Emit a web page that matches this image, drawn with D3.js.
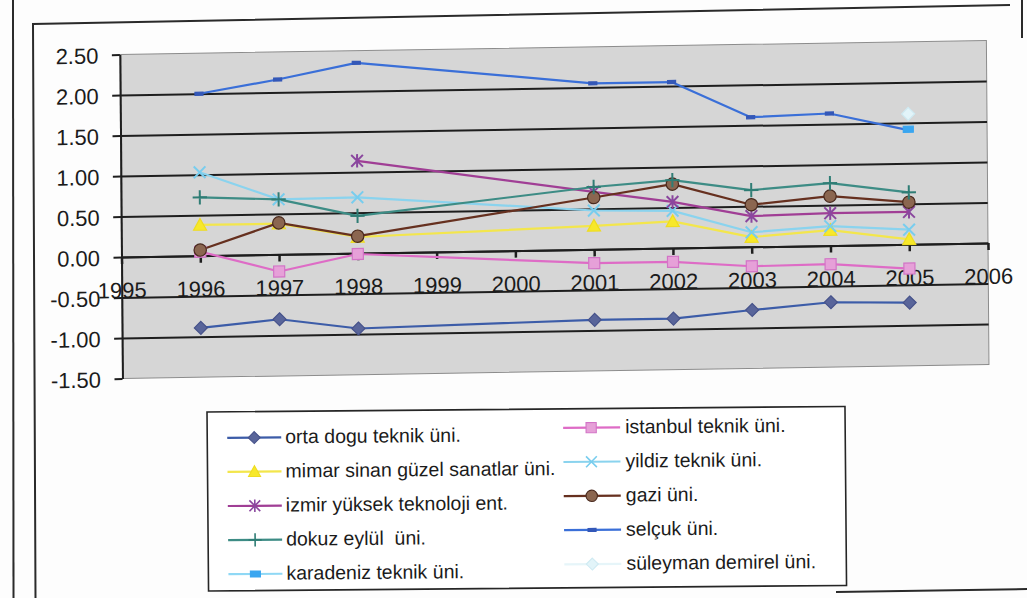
<!DOCTYPE html>
<html><head><meta charset="utf-8">
<script src="https://cdn.jsdelivr.net/npm/d3@7"></script>
<style>
body{margin:0;background:#fdfdfd;}
svg{display:block;}
text{font-family:"Liberation Sans",Arial,Helvetica,sans-serif;fill:#1b1b1b;}
</style></head><body>
<svg id="c" width="1027" height="598"></svg>
<script>
// ---------- data ----------
const years = [1996,1997,1998,1999,2000,2001,2002,2003,2004,2005];
const xTickLabels = [1995,1996,1997,1998,1999,2000,2001,2002,2003,2004,2005,2006];
const yTickValues = [-1.5,-1.0,-0.5,0,0.5,1.0,1.5,2.0,2.5];
const seriesNames = ["orta dogu teknik üni.","istanbul teknik üni.","mimar sinan güzel sanatlar üni.","yildiz teknik üni.","izmir yüksek teknoloji ent.","gazi üni.","dokuz eylül  üni.","selçuk üni.","karadeniz teknik üni.","süleyman demirel üni."];
const ortaDogu   = [-0.89,-0.80,-0.93,null,null,-0.87,-0.87,-0.78,-0.70,-0.72];
const istanbul   = [ 0.05,-0.21,-0.01,null,null,-0.17,-0.17,-0.24,-0.23,-0.30];
const mimarSinan = [ 0.38, 0.38, 0.20,null,null, 0.29, 0.33, 0.12, 0.19, 0.06];
const yildiz     = [ 1.03, 0.68, 0.69,null,null, 0.48, 0.46, 0.18, 0.24, 0.18];
const izmir      = [ null, null, 1.14,null,null, 0.71, 0.57, 0.38, 0.40, 0.40];
const gazi       = [ 0.07, 0.39, 0.21,null,null, 0.64, 0.79, 0.52, 0.61, 0.52];
const dokuzEylul = [ 0.72, 0.68, 0.46,null,null, 0.77, 0.84, 0.70, 0.77, 0.64];
const selcuk     = [ 2.00, 2.16, 2.35,null,null, 2.05, 2.05, 1.60, 1.63, 1.41];
const karadeniz  = [ null, null, null,null,null, null, null, null, null, 1.42];
const suleyman   = [ null, null, null,null,null, null, null, null, null, 1.61];
const seriesValues = [ortaDogu,istanbul,mimarSinan,yildiz,izmir,gazi,dokuzEylul,selcuk,karadeniz,suleyman];

// ---------- styles ----------
const lineColors   = ["#3c5ca8","#de6cc6","#f3e64c","#8ad3ee","#a03e95","#66301f","#3d8c85","#3a6fd8","#8fd8f5","#e6f5f9"];
const markerFill   = ["#59659a","#e6a0d8","#f7e82a","none","none","#8b6650","none","#3458b8","#3aa6f0","#e2f4f9"];
const markerStroke = ["#46528a","#d274c6","#eedc20","#78cdee","#8a479e","#4a2a1e","#2f7d75","#3458b8","#3aa6f0","#cfeaf2"];
const markerTypes  = ["diamond","square","triangle","x","asterisk","circle","plus","dash","bigdash","diamond"];

const mk = {
  diamond:{draw(c,s){c.moveTo(0,-s);c.lineTo(s,0);c.lineTo(0,s);c.lineTo(-s,0);c.closePath();}},
  square:{draw(c,s){s*=0.85;c.moveTo(-s,-s);c.lineTo(s,-s);c.lineTo(s,s);c.lineTo(-s,s);c.closePath();}},
  triangle:{draw(c,s){c.moveTo(0,-s);c.lineTo(s,s*0.8);c.lineTo(-s,s*0.8);c.closePath();}},
  x:{draw(c,s){s*=0.9;c.moveTo(-s,-s);c.lineTo(s,s);c.moveTo(-s,s);c.lineTo(s,-s);}},
  asterisk:{draw(c,s){s*=0.9;c.moveTo(-s,-s);c.lineTo(s,s);c.moveTo(-s,s);c.lineTo(s,-s);c.moveTo(0,-s*1.15);c.lineTo(0,s*1.15);}},
  circle:{draw(c,s){c.moveTo(s*0.95,0);c.arc(0,0,s*0.95,0,2*Math.PI);}},
  plus:{draw(c,s){s*=1.1;c.moveTo(-s,0);c.lineTo(s,0);c.moveTo(0,-s);c.lineTo(0,s);}},
  dash:{draw(c,s){c.moveTo(-4,-1.5);c.lineTo(4,-1.5);c.lineTo(4,1.5);c.lineTo(-4,1.5);c.closePath();}},
  bigdash:{draw(c,s){c.moveTo(-5,-3);c.lineTo(5,-3);c.lineTo(5,3);c.lineTo(-5,3);c.closePath();}}
};

const svg = d3.select("#c");

// ---------- page frame ----------
svg.append("line").attr("x1",13).attr("y1",0).attr("x2",13.5).attr("y2",598).attr("stroke","#2a2a2a").attr("stroke-width",2);
svg.append("polyline").attr("points","1010,5 33,24 35.5,598").attr("fill","none").attr("stroke","#2a2a2a").attr("stroke-width",2);
svg.append("line").attr("x1",1022).attr("y1",0).attr("x2",1022).attr("y2",38).attr("stroke","#2a2a2a").attr("stroke-width",2);
svg.append("line").attr("x1",836).attr("y1",592).attr("x2",1027).attr("y2",589).attr("stroke","#2a2a2a").attr("stroke-width",2);

// ---------- plot ----------
const L = 121.5, R = 988, T = 54.5, B = 378.5;
const x = d3.scaleLinear().domain([1995,2006]).range([L,R]);
const y = d3.scaleLinear().domain([-1.5,2.5]).range([B,T]);

// slight scan skew
const g = svg.append("g").attr("transform",`matrix(1,-0.01615,0.008,1,${-0.008*257},${0.01615*L})`);

g.append("rect").attr("x",L).attr("y",T).attr("width",R-L).attr("height",B-T)
  .attr("fill","#d6d6d6").attr("stroke","#8c8c8c").attr("stroke-width",1);

// gridlines
g.append("g").attr("transform",`translate(${L},0)`)
  .call(d3.axisLeft(y).tickValues(yTickValues.filter(v=>v>-1.5&&v<2.5)).tickSize(-(R-L)).tickFormat(""))
  .call(a=>a.select(".domain").remove())
  .call(a=>a.selectAll("line").attr("stroke","#1e1e1e").attr("stroke-width",2));

// y axis
const ya = g.append("g").attr("transform",`translate(${L},0)`)
  .call(d3.axisLeft(y).tickValues(yTickValues).tickSize(8).tickSizeOuter(0).tickFormat(d=>d.toFixed(2)));
ya.select(".domain").attr("stroke","#1e1e1e").attr("stroke-width",2);
ya.selectAll(".tick line").attr("stroke","#1e1e1e").attr("stroke-width",2);
ya.selectAll(".tick text").attr("x",-21.5).attr("dy",0).attr("y",8.2)
  .attr("font-size",22).attr("fill","#1b1b1b");
ya.attr("font-family",null).attr("font-size",22);

// x axis at zero
const xa = g.append("g").attr("transform",`translate(0,${y(0)})`)
  .call(d3.axisBottom(x).tickValues(xTickLabels).tickSize(7).tickSizeOuter(0).tickFormat(d3.format("d")));
xa.select(".domain").attr("stroke","#1e1e1e").attr("stroke-width",2);
xa.selectAll(".tick line").attr("stroke","#1e1e1e").attr("stroke-width",2.5);
xa.selectAll(".tick text").attr("y",41).attr("dy",0)
  .attr("font-size",22).attr("fill","#1b1b1b");
xa.attr("font-family",null).attr("font-size",22);

// series
const line = d3.line().x(d=>x(d.year)).y(d=>y(d.v));
seriesValues.forEach((vals,i)=>{
  const pts = years.map((yr,j)=>({year:yr,v:vals[j]})).filter(d=>d.v!==null);
  if(pts.length>1){
    g.append("path").datum(pts).attr("d",line).attr("fill","none")
      .attr("stroke",lineColors[i]).attr("stroke-width",2.2).attr("stroke-linejoin","round");
  }
});
seriesValues.forEach((vals,i)=>{
  const pts = years.map((yr,j)=>({year:yr,v:vals[j]})).filter(d=>d.v!==null);
  const sym = d3.symbol().type(mk[markerTypes[i]]).size(6.5);
  const stroked = ["x","asterisk","plus"].includes(markerTypes[i]);
  g.selectAll(null).data(pts).enter().append("path")
    .attr("transform",d=>`translate(${x(d.year)},${y(d.v)})`)
    .attr("d",sym)
    .attr("fill",markerFill[i])
    .attr("stroke",markerStroke[i])
    .attr("stroke-width",stroked?2:1.2);
});

// ---------- legend ----------
const lg = svg.append("g").attr("transform","rotate(-0.5,207,412)");
lg.append("rect").attr("x",207).attr("y",412).attr("width",638).attr("height",179)
  .attr("fill","#ffffff").attr("stroke","#262626").attr("stroke-width",1.6);
const legendOrder = [0,2,4,6,8,1,3,5,7,9];
legendOrder.forEach((si,k)=>{
  const col = k<5?0:1, row = k%5;
  const x0 = col===0?227:563, x1 = col===0?281:620, mx = col===0?254:591, tx = col===0?285:625;
  const ry = (col===0?438:431) + row*34.1;
  lg.append("line").attr("x1",x0).attr("x2",x1).attr("y1",ry).attr("y2",ry)
    .attr("stroke",lineColors[si]).attr("stroke-width",2.2);
  const stroked = ["x","asterisk","plus"].includes(markerTypes[si]);
  lg.append("path").attr("transform",`translate(${mx},${ry})`)
    .attr("d",d3.symbol().type(mk[markerTypes[si]]).size(6)())
    .attr("fill",markerFill[si]).attr("stroke",markerStroke[si]).attr("stroke-width",stroked?1.6:1.1);
  lg.append("text").attr("x",tx).attr("y",ry+6)
    .attr("font-size",19.5).style("white-space","pre").text(seriesNames[si]);
});
</script>
</body></html>
